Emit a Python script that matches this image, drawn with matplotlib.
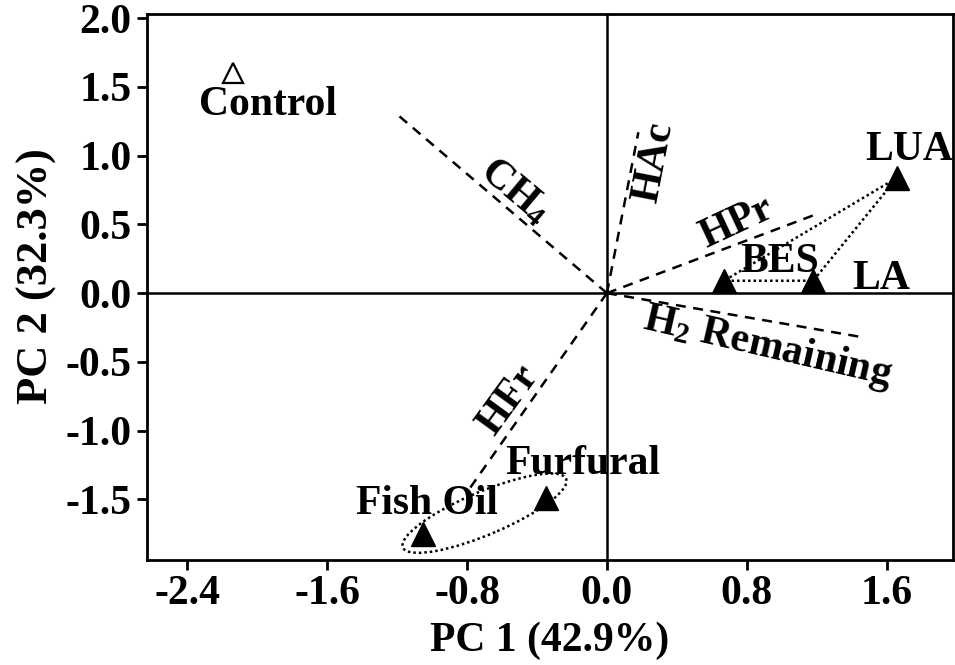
import numpy as np
import matplotlib
matplotlib.use("Agg")
import matplotlib.pyplot as plt
from matplotlib.patches import Ellipse

plt.rcParams['font.family'] = ['Liberation Serif', 'DejaVu Serif']
plt.rcParams['font.weight'] = 'bold'
plt.rcParams['mathtext.fontset'] = 'custom'
plt.rcParams['mathtext.rm'] = 'Liberation Serif:bold'
plt.rcParams['mathtext.it'] = 'Liberation Serif:bold'
plt.rcParams['mathtext.bf'] = 'Liberation Serif:bold'

# sample scores
samples = ['Control', 'LUA', 'BES', 'LA', 'Fish Oil', 'Furfural']
pc1 = [-2.14, 1.66, 0.67, 1.18, -1.05, -0.35]
pc2 = [1.60, 0.84, 0.09, 0.09, -1.75, -1.49]
filled = [False, True, True, True, True, True]
label_xy = [(-1.94, 1.37), (1.73, 1.04), (0.99, 0.23), (1.57, 0.10),
            (-1.03, -1.53), (-0.14, -1.24)]

# loadings
variables = ['CH$_4$', 'HAc', 'HPr', 'H$_2$ Remaining', 'HFr']
load1 = [-1.20, 0.18, 1.19, 1.46, -0.79]
load2 = [1.30, 1.17, 0.57, -0.32, -1.43]
var_xy = [(-0.53, 0.74), (0.27, 0.95), (0.74, 0.51), (0.92, -0.39), (-0.56, -0.78)]
var_rot = [-40, 79, 25, -13, 54]

fs = 30
fig = plt.figure(figsize=(9.55, 6.65), dpi=100)
ax = fig.add_axes([0.154, 0.158, 0.844, 0.821])

ax.axhline(0, color='black', lw=1.8, zorder=1)
ax.axvline(0, color='black', lw=1.8, zorder=1)

for i in range(len(variables)):
    ax.plot([0, load1[i]], [0, load2[i]], color='black', lw=1.8,
            linestyle=(0, (4, 3)), zorder=2)
    ax.text(var_xy[i][0], var_xy[i][1], variables[i], fontsize=fs,
            fontweight='bold', rotation=var_rot[i], rotation_mode='anchor',
            ha='center', va='center', zorder=4)

# dotted group around LUA, BES, LA
grp = [1, 2, 3, 1]
ax.plot([pc1[j] for j in grp], [pc2[j] for j in grp], color='black',
        lw=1.8, linestyle=(0, (1, 1.2)), zorder=2)

ax.add_patch(Ellipse((-0.70, -1.60), width=1.06, height=0.30, angle=29,
                     fill=False, edgecolor='black', lw=1.8,
                     linestyle=(0, (1, 1.2)), zorder=2))

for i in range(len(samples)):
    if filled[i]:
        ax.plot(pc1[i], pc2[i], marker='^', ms=17, color='black',
                linestyle='none', zorder=3)
    else:
        ax.plot(pc1[i], pc2[i], marker='^', ms=14, markerfacecolor='white',
                markeredgecolor='black', mew=1.6, linestyle='none', zorder=3)
    ax.text(label_xy[i][0], label_xy[i][1], samples[i], fontsize=fs,
            fontweight='bold', ha='center', va='center', zorder=4)

ax.set_xlim(-2.63, 1.98)
ax.set_ylim(-1.94, 2.03)
ax.set_xticks([-2.4, -1.6, -0.8, 0.0, 0.8, 1.6])
ax.set_yticks([-1.5, -1.0, -0.5, 0.0, 0.5, 1.0, 1.5, 2.0])
ax.xaxis.set_major_formatter(matplotlib.ticker.FormatStrFormatter('%.1f'))
ax.yaxis.set_major_formatter(matplotlib.ticker.FormatStrFormatter('%.1f'))
ax.tick_params(direction='out', length=7, width=2, labelsize=fs, pad=4)
for lab in ax.get_xticklabels() + ax.get_yticklabels():
    lab.set_fontweight('bold')
for s in ax.spines.values():
    s.set_linewidth(2)

ax.set_xlabel('PC 1 (42.9%)', fontsize=fs, fontweight='bold', labelpad=6)
ax.set_ylabel('PC 2 (32.3%)', fontsize=32, fontweight='bold')
ax.yaxis.set_label_coords(-0.112, 0.52)

fig.savefig('out.png', dpi=100)
